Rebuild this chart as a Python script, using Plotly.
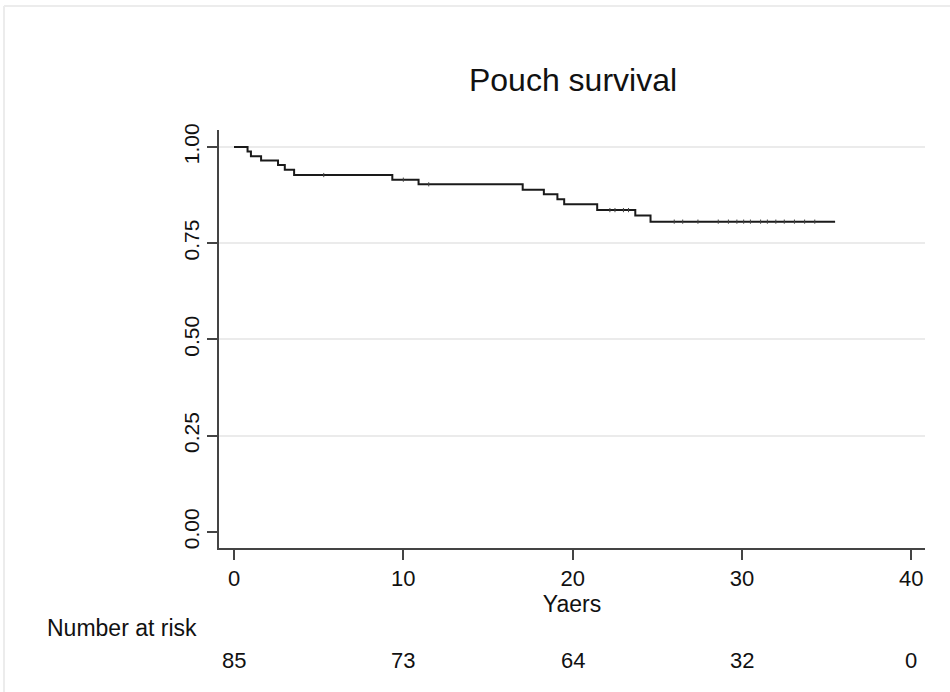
import plotly.graph_objects as go
import numpy as np

# ---- data ----
event_times = [0, 0.8, 1.0, 1.6, 2.6, 3.0, 3.55, 9.35, 10.9, 17.05, 18.3, 19.1, 19.5, 21.45, 23.7, 24.6, 35.5]
survival = [1.0, 0.988, 0.976, 0.965, 0.953, 0.941, 0.927, 0.915, 0.903, 0.889, 0.877, 0.864, 0.851, 0.836, 0.822, 0.806, 0.806]
censor_times = [5.3, 10.0, 11.5, 22.2, 22.5, 23.0, 23.3, 26.0, 26.5, 27.4, 28.6, 29.2, 29.7,
                30.1, 30.5, 31.1, 31.5, 32.0, 32.5, 33.1, 33.7, 34.3]
risk_times = [0, 10, 20, 30, 40]
risk_counts = [85, 73, 64, 32, 0]
x_ticks = [0, 10, 20, 30, 40]
y_ticks = [0, 0.25, 0.5, 0.75, 1.0]
y_tick_labels = ["0.00", "0.25", "0.50", "0.75", "1.00"]
grid_vals = [0.25, 0.5, 0.75, 1.0]

# survival value at each censoring time (step lookup)
idx = np.searchsorted(event_times, censor_times, side="right") - 1
censor_surv = [survival[i] for i in idx]

FONT = "Liberation Sans, Arial, Helvetica, sans-serif"
TXT = "#111111"
W, H = 950, 692
L, R, T, B = 219, 25, 130, 144
pw, ph = W - L - R, H - T - B


def px(xp):
    return (xp - L) / pw


def py(yp):
    return (H - B - yp) / ph


fig = go.Figure()
fig.add_trace(go.Scatter(
    x=event_times, y=survival, mode="lines", line=dict(shape="hv", color="#1a1a1a", width=2),
    showlegend=False, hoverinfo="skip"))
fig.add_trace(go.Scatter(
    x=censor_times, y=censor_surv, mode="markers",
    marker=dict(symbol="line-ns-open", size=3, color="#444444", line=dict(color="#444444", width=1)),
    showlegend=False, hoverinfo="skip"))
# invisible trace for the grid axis
fig.add_trace(go.Scatter(x=[0], y=[0.5], yaxis="y2", mode="markers",
                         marker=dict(opacity=0), showlegend=False, hoverinfo="skip"))

xr = [-0.886, 40.81]
yr = [-0.0416, 1.044]

fig.update_layout(
    width=W, height=H,
    margin=dict(l=L, r=R, t=T, b=B),
    paper_bgcolor="white", plot_bgcolor="white",
    font=dict(family=FONT, color=TXT),
    title=dict(text="Pouch survival", x=px(573), xref="paper", y=1 - 80 / H,
               xanchor="center", yanchor="middle", font=dict(size=32, family=FONT, color=TXT)),
    xaxis=dict(range=xr, tickvals=x_ticks, showgrid=False, zeroline=False,
               showline=True, linecolor="#444444", linewidth=1.5,
               ticks="outside", ticklen=10, tickwidth=1.5, tickcolor="#444444",
               tickfont=dict(size=22, family=FONT, color=TXT),
               title=dict(text="Yaers", font=dict(size=23, family=FONT, color=TXT), standoff=2)),
    yaxis=dict(range=yr, tickvals=y_ticks, ticktext=y_tick_labels, showgrid=False, zeroline=False,
               showline=True, linecolor="#444444", linewidth=1.5,
               ticks="outside", ticklen=10, tickwidth=1.5, tickcolor="#444444",
               tickangle=-90, tickfont=dict(size=21, family=FONT, color=TXT)),
    yaxis2=dict(range=yr, overlaying="y", tickvals=grid_vals, showgrid=True, gridcolor="#ebebeb",
                gridwidth=1.5, showticklabels=False, zeroline=False, showline=False, ticks="",
                layer="below traces"),
)

# number at risk row
fig.add_annotation(text="Number at risk", xref="paper", yref="paper", x=px(45), y=py(628),
                   xanchor="left", yanchor="middle", showarrow=False,
                   font=dict(size=23, family=FONT, color=TXT))
for t, n in zip(risk_times, risk_counts):
    fig.add_annotation(text=str(n), xref="x", yref="paper", x=t, y=py(660),
                       xanchor="center", yanchor="middle", showarrow=False,
                       font=dict(size=22, family=FONT, color=TXT))

# light frame at top and left
fig.add_shape(type="line", xref="paper", yref="paper", x0=px(4), x1=px(952), y0=py(6), y1=py(6),
              line=dict(color="#ececec", width=2))
fig.add_shape(type="line", xref="paper", yref="paper", x0=px(4), x1=px(4), y0=py(6), y1=py(700),
              line=dict(color="#ececec", width=2))

fig.write_html("out.html", config={"displayModeBar": False},
               post_script="document.body.style.margin='0';")
